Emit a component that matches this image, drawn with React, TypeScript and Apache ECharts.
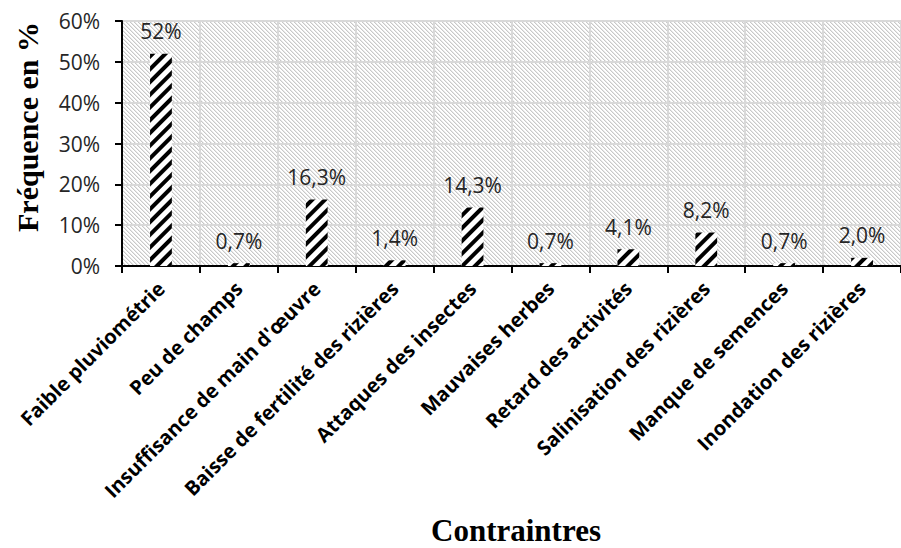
import React, { useEffect, useRef } from 'react';
import * as echarts from 'echarts';

const categories = [
  'Faible pluviométrie',
  'Peu de champs',
  "Insuffisance de main d'œuvre",
  'Baisse de fertilité des rizières',
  'Attaques des insectes',
  'Mauvaises herbes',
  'Retard des activités',
  'Salinisation des rizières',
  'Manque de semences',
  'Inondation des rizières',
];
const values = [52, 0.7, 16.3, 1.4, 14.3, 0.7, 4.1, 8.2, 0.7, 2.0];
const valueLabels = ['52%', '0,7%', '16,3%', '1,4%', '14,3%', '0,7%', '4,1%', '8,2%', '0,7%', '2,0%'];
const yMin = 0;
const yMax = 60;
const yStep = 10;
const yTitle = 'Fréquence en %';
const xTitle = 'Contraintres';

function makeHatch(): string {
  const size = 4;
  const c = document.createElement('canvas');
  c.width = size;
  c.height = size;
  const ctx = c.getContext('2d')!;
  ctx.fillStyle = '#ffffff';
  ctx.fillRect(0, 0, size, size);
  for (let i = 0; i < size; i++) {
    ctx.fillStyle = '#c8c8c8';
    ctx.fillRect(i, i, 1, 1);
    ctx.fillStyle = '#e8e8e8';
    ctx.fillRect((i + 1) % size, i, 1, 1);
  }
  return c.toDataURL();
}

export default function App() {
  const ref = useRef<HTMLDivElement>(null);
  useEffect(() => {
    if (!ref.current) return;
    const chart = echarts.init(ref.current, undefined, { renderer: 'svg' });
    const hatch = makeHatch();
    const labelFont = '"Open Sans", "Liberation Sans", sans-serif';
    chart.setOption({
      animation: false,
      backgroundColor: '#ffffff',
      grid: {
        left: 122,
        top: 21,
        right: -11,
        bottom: 282,
        show: true,
        borderWidth: 0,
        backgroundColor: { image: hatch, repeat: 'repeat', imageWidth: 4, imageHeight: 4 },
      },
      xAxis: {
        type: 'category',
        data: categories,
        axisLine: { show: true, lineStyle: { color: '#000', width: 2 } },
        axisTick: { show: true, length: 7, lineStyle: { color: '#000', width: 2 } },
        splitLine: { show: true, lineStyle: { color: '#d9d9d9', width: 2 } },
        axisLabel: {
          rotate: 45,
          interval: 0,
          margin: 19,
          color: '#000',
          fontFamily: labelFont,
          fontWeight: 'bold',
          fontSize: 20,
        },
      },
      yAxis: {
        type: 'value',
        min: yMin,
        max: yMax,
        interval: yStep,
        axisLine: { show: true, lineStyle: { color: '#000', width: 2 } },
        axisTick: { show: true, length: 7, lineStyle: { color: '#000', width: 2 } },
        splitLine: { show: true, lineStyle: { color: '#d9d9d9', width: 2 } },
        axisLabel: {
          formatter: (v: number) => `${v}%`,
          margin: 22,
          color: '#262626',
          fontFamily: labelFont,
          fontSize: 21,
        },
      },
      graphic: [
        {
          type: 'text',
          x: 27,
          y: 127,
          rotation: Math.PI / 2,
          style: {
            text: yTitle,
            font: 'bold 30px "Liberation Serif", "Times New Roman", serif',
            fill: '#000',
            textAlign: 'center',
            textVerticalAlign: 'middle',
          },
        },
        {
          type: 'text',
          x: 516,
          y: 530,
          style: {
            text: xTitle,
            font: 'bold 31px "Liberation Serif", "Times New Roman", serif',
            fill: '#000',
            textAlign: 'center',
            textVerticalAlign: 'middle',
          },
        },
      ],
      series: [
        {
          type: 'bar',
          data: values,
          barWidth: '28%',
          itemStyle: {
            color: '#ffffff',
            decal: {
              symbol: 'rect',
              symbolSize: 1,
              color: '#000000',
              backgroundColor: '#ffffff',
              dashArrayX: [1, 0],
              dashArrayY: [4, 5],
              rotation: -Math.PI / 4,
            },
          },
          label: {
            show: true,
            position: 'top',
            distance: 12,
            formatter: (p: any) => valueLabels[p.dataIndex],
            color: '#262626',
            fontFamily: labelFont,
            fontSize: 21,
          },
        },
      ],
    });
    return () => chart.dispose();
  }, []);
  return (
    <div
      ref={ref}
      style={{ position: 'fixed', left: 0, top: 0, width: 901, height: 548, background: '#fff' }}
    />
  );
}
